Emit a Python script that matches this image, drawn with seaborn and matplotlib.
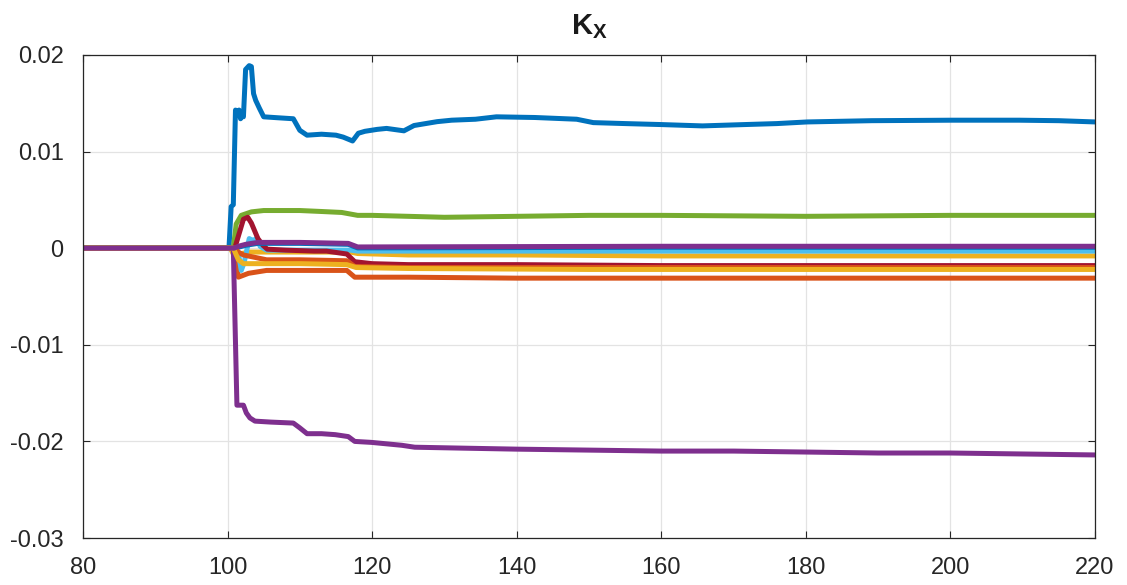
import matplotlib
matplotlib.use("Agg")
import matplotlib.pyplot as plt
import seaborn as sns
import pandas as pd

# Gain trajectories K_X over time, one breakpoint list per coefficient
t_blue = [80, 100.2, 100.5, 100.8, 101.1, 101.3, 101.6, 101.8, 102.0, 102.2, 102.5, 103.0,
          103.3, 103.6, 103.9, 104.4, 105.0, 107, 109.1, 110.0, 111.0, 113, 115, 116.0,
          117.3, 118.1, 119, 120.7, 122.0, 124.4, 125.8, 129.0, 131, 134.3, 137.2, 142.5,
          148.3, 150.6, 155, 159.9, 165.7, 171.6, 176, 180.2, 189.1, 200.2, 209.5, 215, 220]
k_blue = [0, 0, 0.0043, 0.0045, 0.0143, 0.0141, 0.0143, 0.0134, 0.0138, 0.0136, 0.0185, 0.0189,
          0.0188, 0.0160, 0.0153, 0.0145, 0.0136, 0.0135, 0.0134, 0.0122, 0.0117, 0.0118, 0.0117,
          0.0115, 0.0111, 0.0119, 0.0121, 0.0123, 0.0124, 0.01215, 0.0127, 0.0131, 0.01325,
          0.01335, 0.0136, 0.01353, 0.01335, 0.0130, 0.0129, 0.0128, 0.01266, 0.0128, 0.0129,
          0.01307, 0.0132, 0.01325, 0.01325, 0.0132, 0.01307]

t_orange_lo = [80, 100.9, 101.5, 102.9, 105.4, 110, 116.5, 117.6, 125, 140, 160, 220]
k_orange_lo = [0, 0, -0.0030, -0.0026, -0.0023, -0.0023, -0.0023, -0.0030, -0.0030, -0.0031,
               -0.0031, -0.0031]

t_yellow_hi = [80, 100.4, 101.0, 101.6, 103, 110, 117, 118, 125, 140, 160, 220]
k_yellow_hi = [0, 0, -0.0009, -0.0006, -0.0004, -0.0004, -0.0004, -0.00055, -0.0007, -0.0007,
               -0.0008, -0.0008]

t_purple_lo = [80, 100.8, 101.3, 102.2, 102.6, 103.1, 103.8, 106, 109.1, 110.0, 111.0, 113,
               114.9, 116.7, 117.6, 119.9, 124.1, 125.9, 132.8, 140, 150, 160, 170, 180, 190,
               200, 210, 220]
k_purple_lo = [0, 0, -0.01625, -0.01625, -0.01705, -0.01757, -0.0179, -0.0180, -0.0181, -0.0186,
               -0.0192, -0.0192, -0.0193, -0.0195, -0.0200, -0.0201, -0.0204, -0.0206, -0.0207,
               -0.0208, -0.0209, -0.0210, -0.0210, -0.0211, -0.0212, -0.0212, -0.0213, -0.0214]

t_green = [80, 100.8, 101.2, 101.9, 103.3, 105, 108, 110, 113, 115.8, 118, 120, 125, 130, 140,
           150, 160, 180, 200, 220]
k_green = [0, 0, 0.0025, 0.0034, 0.00376, 0.0039, 0.0039, 0.0039, 0.0038, 0.0037, 0.0034,
           0.0034, 0.0033, 0.0032, 0.0033, 0.0034, 0.0034, 0.0033, 0.0034, 0.0034]

t_lightblue = [80, 101.0, 101.5, 101.9, 102.3, 103.0, 103.5, 103.8, 104.1, 104.5, 105.4, 110,
               117, 118, 130, 160, 220]
k_lightblue = [0, 0, -0.0005, -0.0023, -0.0015, 0.0010, 0.0008, 0.0009, 0.0011, 0.0002, -0.0002,
               -0.0002, -0.0002, -0.0003, -0.0003, -0.0003, -0.0003]

t_darkred = [80, 101.0, 101.6, 102.2, 102.8, 103.3, 104.2, 104.9, 105.5, 108, 112, 113.7, 116.5,
             117.6, 120, 125, 140, 160, 180, 200, 220]
k_darkred = [0, 0, 0.0015, 0.0030, 0.0032, 0.0026, 0.0010, 0.0003, -0.0001, -0.0002, -0.0003,
             -0.0003, -0.0006, -0.0014, -0.0016, -0.0017, -0.0017, -0.0018, -0.0018, -0.0018,
             -0.0018]

t_blue2 = [80, 100.9, 101.5, 102.5, 104.2, 110, 116.7, 118, 130, 160, 220]
k_blue2 = [0, 0, 0.0001, 0.0003, 0.0005, 0.0005, 0.0004, 0.00003, 0.00005, 0.0001, 0.0001]

t_orange_hi = [80, 101.0, 101.5, 102.2, 105.4, 110, 116.5, 117.6, 125, 150, 220]
k_orange_hi = [0, 0, -0.0004, -0.0007, -0.0012, -0.0012, -0.0013, -0.0019, -0.0020, -0.0020,
               -0.0020]

t_yellow_lo = [80, 100.8, 101.5, 102.2, 105, 110, 116.5, 117.8, 125, 150, 220]
k_yellow_lo = [0, 0, -0.0012, -0.0016, -0.0016, -0.0016, -0.0017, -0.0020, -0.0021, -0.0022,
               -0.0022]

t_purple_hi = [80, 100.9, 101.5, 102.5, 104.2, 110, 116.7, 118, 130, 160, 220]
k_purple_hi = [0, 0, 0.0002, 0.0004, 0.0006, 0.0006, 0.0005, 0.00013, 0.00015, 0.0002, 0.0002]

x_ticks = [80, 100, 120, 140, 160, 180, 200, 220]
y_ticks = [-0.03, -0.02, -0.01, 0, 0.01, 0.02]
y_tick_labels = ["-0.03", "-0.02", "-0.01", "0", "0.01", "0.02"]

series = [
    ("k1", t_blue, k_blue, "#0072BD"),
    ("k2", t_orange_lo, k_orange_lo, "#D95319"),
    ("k3", t_yellow_hi, k_yellow_hi, "#EDB120"),
    ("k4", t_purple_lo, k_purple_lo, "#7E2F8E"),
    ("k5", t_green, k_green, "#77AC30"),
    ("k6", t_lightblue, k_lightblue, "#4DBEEE"),
    ("k7", t_darkred, k_darkred, "#A2142F"),
    ("k8", t_blue2, k_blue2, "#0072BD"),
    ("k9", t_orange_hi, k_orange_hi, "#D95319"),
    ("k10", t_yellow_lo, k_yellow_lo, "#EDB120"),
    ("k11", t_purple_hi, k_purple_hi, "#7E2F8E"),
]

frames = [pd.DataFrame({"t": t, "k": k, "series": name}) for name, t, k, _ in series]
df = pd.concat(frames, ignore_index=True)
order = [s[0] for s in series]
palette = {s[0]: s[3] for s in series}

sns.set_theme(style="white")
plt.rcParams["font.family"] = ["Liberation Sans", "DejaVu Sans"]
plt.rcParams["mathtext.fontset"] = "custom"
plt.rcParams["mathtext.rm"] = "Liberation Sans"
plt.rcParams["mathtext.bf"] = "Liberation Sans:bold"

fig = plt.figure(figsize=(11.27, 5.85), dpi=100)
ax = fig.add_axes([0.0736, 0.0803, 0.898, 0.8257])

sns.lineplot(data=df, x="t", y="k", hue="series", hue_order=order, palette=palette,
             sort=False, estimator=None, linewidth=3.6, alpha=1.0, legend=False, ax=ax)

ax.set_xlim(80, 220)
ax.set_ylim(-0.03, 0.02)
ax.set_xticks(x_ticks)
ax.set_xticklabels([str(v) for v in x_ticks])
ax.set_yticks(y_ticks)
ax.set_yticklabels(y_tick_labels)
ax.set_xlabel("")
ax.set_ylabel("")

ax.grid(True, color="#e3e3e3", linewidth=0.9)
ax.set_axisbelow(True)
for sp in ax.spines.values():
    sp.set_color("#262626")
    sp.set_linewidth(0.9)
    sp.set_visible(True)
ax.tick_params(axis="both", which="both", direction="in", length=5, width=0.8,
               color="#262626", labelcolor="#262626", labelsize=17,
               top=True, right=True, left=True, bottom=True)
ax.tick_params(axis="y", pad=14)
ax.tick_params(axis="x", pad=14)

ax.set_title(r"$\mathbf{K_X}$", fontsize=21, color="#1a1a1a", pad=15)

fig.savefig("out.png", dpi=100, facecolor="white")
